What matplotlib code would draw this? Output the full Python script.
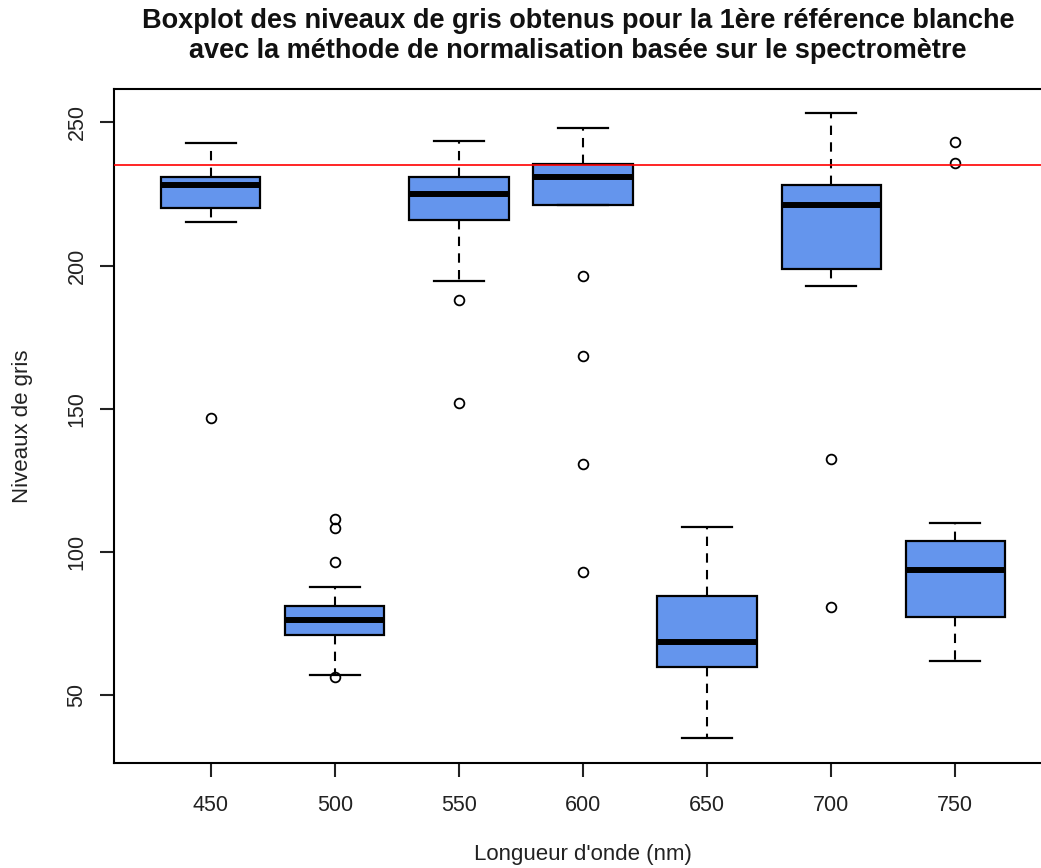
import matplotlib
matplotlib.use("Agg")
import matplotlib.pyplot as plt

# ---------------------------------------------------------------------------
# Data
# ---------------------------------------------------------------------------
wavelengths = ["450", "500", "550", "600", "650", "700", "750"]
whislo = [215.4, 56.9, 194.8, 221.2, 35.0, 193.0, 62.0]
q1     = [220.0, 71.0, 216.0, 221.2, 60.0, 198.7, 77.3]
med    = [228.3, 76.2, 225.0, 230.8, 68.5, 221.2, 93.7]
q3     = [230.8, 81.3, 230.8, 235.4, 84.6, 228.3, 103.7]
whishi = [243.0, 87.9, 243.7, 248.1, 108.8, 253.3, 110.1]
fliers = [
    [146.7],
    [111.5, 108.3, 96.6, 56.2],
    [187.9, 152.0],
    [196.3, 168.6, 130.8, 93.1],
    [],
    [132.6, 80.9],
    [243.1, 236.0],
]
ref_level = 235
yticks = [50, 100, 150, 200, 250]

plt.rcParams["font.family"] = ["Liberation Sans", "DejaVu Sans"]

stats = []
for i, lab in enumerate(wavelengths):
    stats.append(dict(label=lab, whislo=whislo[i], q1=q1[i], med=med[i],
                      q3=q3[i], whishi=whishi[i], fliers=fliers[i]))
positions = list(range(1, len(wavelengths) + 1))

W, H = 1041, 868
fig = plt.figure(figsize=(W / 100, H / 100), dpi=100)
# plot region: left 114px, top 89px, bottom 763px, right runs off the image
ax = fig.add_axes([114 / W, (H - 763) / H, (1052 - 114) / W, 674 / H])

ax.bxp(stats, positions=positions, widths=0.8, capwidths=0.4,
       patch_artist=True, manage_ticks=False,
       boxprops=dict(facecolor="#6495ED", edgecolor="black", linewidth=1.6),
       medianprops=dict(color="black", linewidth=4.3, solid_capstyle="butt"),
       whiskerprops=dict(color="black", linewidth=1.5, linestyle=(0, (4.5, 3.5))),
       capprops=dict(color="black", linewidth=1.6),
       flierprops=dict(marker="o", markerfacecolor="none",
                       markeredgecolor="black", markersize=7,
                       markeredgewidth=1.3))

ax.axhline(ref_level, color="red", linewidth=1.2, zorder=5)

ax.set_xlim(0.22, 7.78)
ax.set_ylim(26.3, 261.7)
ax.set_xticks(positions)
ax.set_xticklabels(wavelengths)
ax.set_yticks(yticks)
ax.set_yticklabels([str(v) for v in yticks], rotation=90, va="center")

for sp in ax.spines.values():
    sp.set_linewidth(1.5)
ax.tick_params(direction="out", length=10, width=1.5, labelsize=15.5,
               colors="#222222")
ax.tick_params(axis="x", pad=13)
ax.tick_params(axis="y", pad=9)

ax.set_xlabel("Longueur d'onde (nm)", fontsize=16, labelpad=20, color="#222222")
ax.set_ylabel("Niveaux de gris", fontsize=16, labelpad=24, color="#222222")

fig.text(578 / W, 1 - 36 / H,
         "Boxplot des niveaux de gris obtenus pour la 1ère référence blanche\n"
         "avec la méthode de normalisation basée sur le spectromètre",
         ha="center", va="center", fontsize=19.5, fontweight="bold",
         linespacing=1.2, color="#111111")

fig.savefig("out.png", dpi=100)
plt.close(fig)
